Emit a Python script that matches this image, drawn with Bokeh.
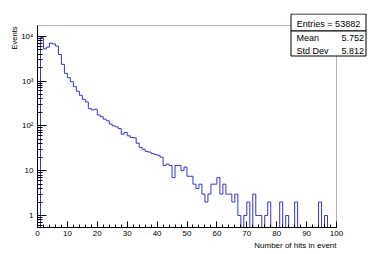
import math
from bokeh.plotting import figure
from bokeh.models import Range1d, FixedTicker, Label, BoxAnnotation, Title
from bokeh.embed import file_html
from bokeh.resources import INLINE

# ---- data ----
bin_low = 0
bin_width = 1
counts = [
    0, 9300, 5200, 5700, 7000, 6700, 6000, 3900, 2350, 1480,
    1190, 965, 750, 590, 480, 390, 341, 243, 226, 235,
    175, 160, 141, 130, 109, 100, 95, 87, 65, 71,
    60, 55, 54, 41, 33, 30, 27, 26, 24, 23,
    22, 20, 13, 14, 13, 7, 13, 13, 10, 12,
    7.5, 7.5, 5, 4, 5, 3, 2, 3, 5, 5,
    7, 3, 5, 3, 3, 2, 3, 1, 0, 1,
    2, 0, 3, 1, 1, 0, 1, 2, 0, 0,
    0, 2, 0, 1, 0, 0, 2, 0, 0, 0,
    0, 0, 0, 0, 2, 0, 1, 0, 0, 0,
]
x_ticks = [0, 10, 20, 30, 40, 50, 60, 70, 80, 90, 100]
y_ticks = [1, 10, 100, 1000, 10000]
y_tick_labels = ["1", "10", "10\u00b2", "10\u00b3", "10\u2074"]
x_title = "Number of hits in event"
y_title = "Events"
stat_entries = "53882"
stat_mean = "5.752"
stat_std = "5.812"

# ---- layout (pixels) ----
FONT = "Liberation Sans"
W, H = 374, 254
FL, FR, FT, FB = 37, 336, 25, 227      # visible ROOT frame
OUT_R, OUT_T = 367, 13                 # bokeh frame extended to hold stats box
x_lo, x_hi = 0, 100
y_lo, y_hi = 0.54, 17300

px_per_x = (FR - FL) / (x_hi - x_lo)
x_end = x_hi + (OUT_R - FR) / px_per_x
dec_per_px = (math.log10(y_hi) - math.log10(y_lo)) / (FB - FT)
y_end = 10 ** (math.log10(y_hi) + (FT - OUT_T) * dec_per_px)

p = figure(width=W, height=H, y_axis_type="log",
           x_range=Range1d(x_lo, x_end), y_range=Range1d(y_lo, y_end),
           output_backend="svg", toolbar_location=None,
           min_border_left=FL, min_border_right=W - OUT_R,
           min_border_top=OUT_T, min_border_bottom=H - FB)
p.grid.visible = False
p.outline_line_color = None
p.background_fill_color = "white"
p.border_fill_color = "white"

n = len(counts)
edges = [bin_low + i * bin_width for i in range(n + 1)]
disp = [c if c > 0 else y_lo * 0.1 for c in counts]
disp = disp + [disp[-1]]
p.step(x=edges, y=disp, mode="after", line_color="#3434d0", line_width=1)

# visible frame
p.add_layout(BoxAnnotation(left=x_lo, right=x_hi, bottom=y_lo, top=y_hi,
                           fill_alpha=0, line_color="black", line_width=1))

# x axis
x_minor = [v for v in range(0, 101, 2)]
p.xaxis.ticker = FixedTicker(ticks=x_ticks, minor_ticks=x_minor)
p.xaxis.bounds = (x_lo, x_hi)
p.xaxis.major_tick_in = 6
p.xaxis.major_tick_out = 0
p.xaxis.minor_tick_in = 3
p.xaxis.minor_tick_out = 0
p.xaxis.axis_line_color = "black"
p.xaxis.major_tick_line_color = "black"
p.xaxis.minor_tick_line_color = "black"
p.xaxis.major_label_text_font = FONT
p.xaxis.major_label_text_font_size = "8px"
p.xaxis.major_label_text_color = "black"
p.xaxis.major_label_standoff = 3

# y axis
y_minor = []
for d in range(-1, 5):
    for m in range(1, 10):
        v = m * 10 ** d
        if y_lo <= v <= y_hi:
            y_minor.append(v)
p.yaxis.ticker = FixedTicker(ticks=y_ticks, minor_ticks=y_minor)
p.yaxis.bounds = (y_lo, y_hi)
p.yaxis.major_label_overrides = {t: lab for t, lab in zip(y_ticks, y_tick_labels)}
p.yaxis.major_tick_in = 9
p.yaxis.major_tick_out = 0
p.yaxis.minor_tick_in = 5
p.yaxis.minor_tick_out = 0
p.yaxis.axis_line_color = "black"
p.yaxis.major_tick_line_color = "black"
p.yaxis.minor_tick_line_color = "black"
p.yaxis.major_label_text_font = FONT
p.yaxis.major_label_text_font_size = "8px"
p.yaxis.major_label_text_color = "black"
p.yaxis.major_label_standoff = 4

# axis titles
p.add_layout(Title(text=x_title, align="right", offset=OUT_R - FR, standoff=0,
                   text_font=FONT, text_font_size="8px", text_font_style="normal",
                   text_color="black"), "below")
p.add_layout(Title(text=y_title, align="right", offset=FT - OUT_T + 1, standoff=0,
                   text_font=FONT, text_font_size="7.5px", text_font_style="normal",
                   text_color="black"), "left")

# stats box
for top, bottom in [(13.5, 30.5), (30.5, 55.5)]:
    p.add_layout(BoxAnnotation(left=290.5, right=365.5, top=top, bottom=bottom,
                               left_units="canvas", right_units="canvas",
                               top_units="canvas", bottom_units="canvas",
                               fill_color="white", fill_alpha=1.0,
                               line_color="black", line_width=1, line_alpha=1.0))
p.add_layout(Label(x=328, y=23, x_units="canvas", y_units="canvas",
                   text="Entries = " + stat_entries, text_align="center",
                   text_baseline="middle", text_font=FONT, text_font_size="9px",
                   text_color="black"))
for yy, name, val in [(37.5, "Mean", stat_mean), (50, "Std Dev", stat_std)]:
    p.add_layout(Label(x=296, y=yy, x_units="canvas", y_units="canvas", text=name,
                       text_align="left", text_baseline="middle", text_font=FONT,
                       text_font_size="9px", text_color="black"))
    p.add_layout(Label(x=363.5, y=yy, x_units="canvas", y_units="canvas", text=val,
                       text_align="right", text_baseline="middle", text_font=FONT,
                       text_font_size="9px", text_color="black"))

open("out.html", "w").write(file_html(p, INLINE))
